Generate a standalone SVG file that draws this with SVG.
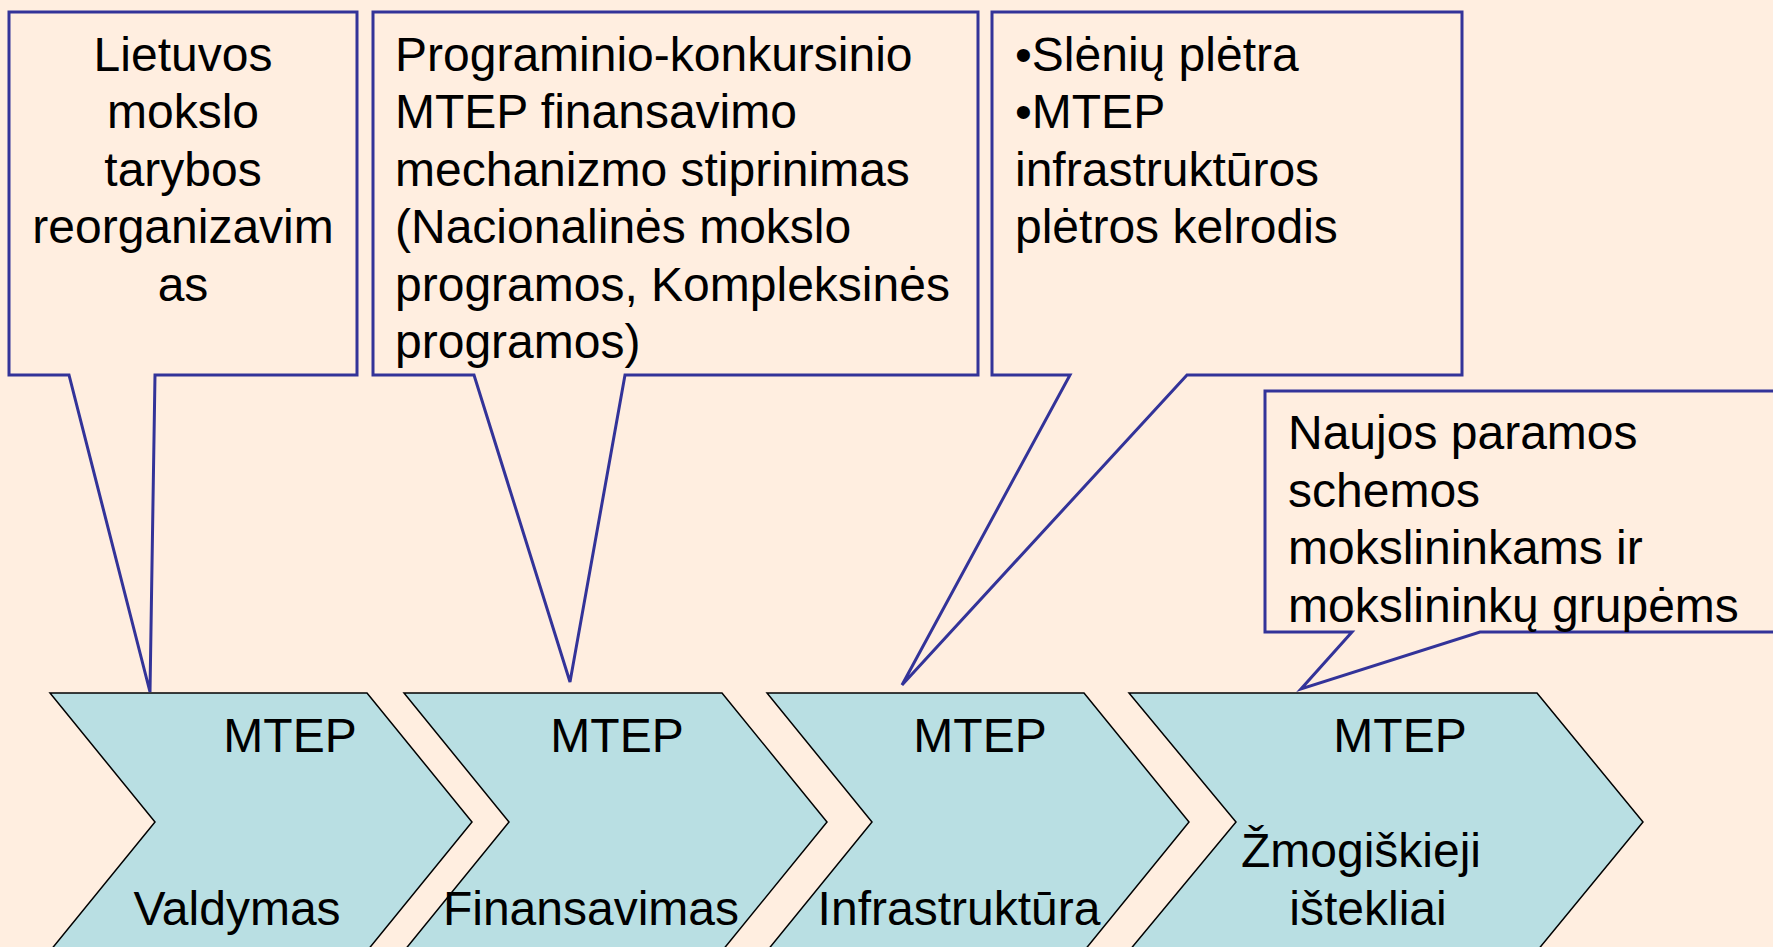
<svg xmlns="http://www.w3.org/2000/svg" width="1773" height="947" viewBox="0 0 1773 947">
<style>
.bg{fill:#FFEEE0}
.callout{fill:#FFEEE0;stroke:#333399;stroke-width:3;stroke-linejoin:miter}
.chev{fill:#B9DFE3;stroke:#000;stroke-width:1.5;stroke-linejoin:miter}
text{font-family:"Liberation Sans",Arial,sans-serif;font-size:48px;fill:#000}
.mid{text-anchor:middle}
</style>
<rect class="bg" x="0" y="0" width="1773" height="947"/>
<g id="chevron-valdymas">
<polygon class="chev" points="50,693 367,693 472,822 367,951 50,951 155,822"/>
<text class="mid" x="290" y="752">MTEP</text>
<text class="mid" x="237" y="925">Valdymas</text>
</g>
<g id="chevron-finansavimas">
<polygon class="chev" points="404,693 722,693 827,822 722,951 404,951 509,822"/>
<text class="mid" x="617" y="752">MTEP</text>
<text class="mid" x="591" y="925">Finansavimas</text>
</g>
<g id="chevron-infrastruktura">
<polygon class="chev" points="767,693 1084,693 1189,822 1084,951 767,951 872,822"/>
<text class="mid" x="980" y="752">MTEP</text>
<text class="mid" x="959" y="925">Infrastruktūra</text>
</g>
<g id="chevron-zmogiskieji">
<polygon class="chev" points="1129,693 1537,693 1643,822 1537,951 1129,951 1236,822"/>
<text class="mid" x="1400" y="752">MTEP</text>
<text class="mid" x="1361" y="867">Žmogiškieji</text>
<text class="mid" x="1368" y="925">ištekliai</text>
</g>
<g id="callout-taryba">
<path class="callout" d="M9,12 H357 V375 H155 L150,692 L69,375 H9 Z"/>
<text class="mid" x="183" y="70.5">Lietuvos</text>
<text class="mid" x="183" y="128">mokslo</text>
<text class="mid" x="183" y="185.5">tarybos</text>
<text class="mid" x="183" y="243">reorganizavim</text>
<text class="mid" x="183" y="300.5">as</text>
</g>
<g id="callout-finansavimas">
<path class="callout" d="M373,12 H978 V375 H625 L570,682 L474,375 H373 Z"/>
<text x="395" y="70.5">Programinio-konkursinio</text>
<text x="395" y="128">MTEP finansavimo</text>
<text x="395" y="185.5">mechanizmo stiprinimas</text>
<text x="395" y="243">(Nacionalinės mokslo</text>
<text x="395" y="300.5">programos, Kompleksinės</text>
<text x="395" y="358">programos)</text>
</g>
<g id="callout-infrastruktura">
<path class="callout" d="M992,12 H1462 V375 H1187 L902,685 L1070,375 H992 Z"/>
<text x="1015" y="70.5">•Slėnių plėtra</text>
<text x="1015" y="128">•MTEP</text>
<text x="1015" y="185.5">infrastruktūros</text>
<text x="1015" y="243">plėtros kelrodis</text>
</g>
<g id="callout-zmogiskieji">
<path class="callout" d="M1265,391 H1800 V632 H1480 L1301,689 L1352,632 H1265 Z"/>
<text x="1288" y="449">Naujos paramos</text>
<text x="1288" y="506.5">schemos</text>
<text x="1288" y="564">mokslininkams ir</text>
<text x="1288" y="621.5">mokslininkų grupėms</text>
</g>
</svg>
